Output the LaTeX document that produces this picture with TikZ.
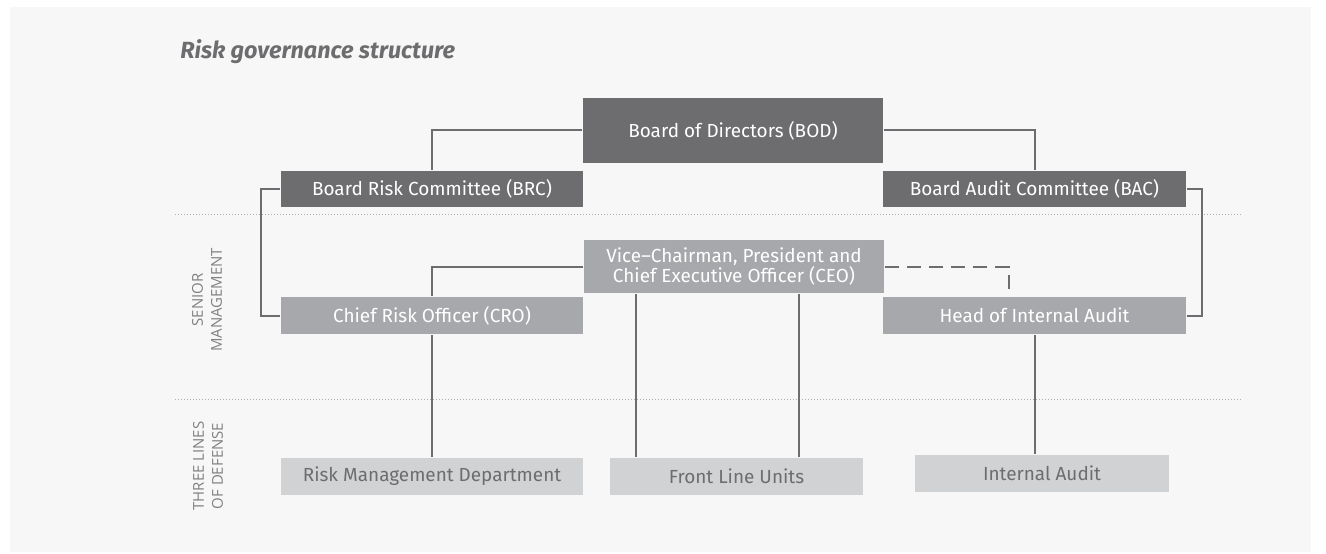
\documentclass[tikz,border=0pt]{standalone}
\usepackage{fontspec}
\setmainfont{Fira Sans}
\newfontfamily\sidefont{Open Sans}
\usetikzlibrary{positioning}

\definecolor{darkbox}{RGB}{109,109,111}
\definecolor{midbox}{RGB}{167,168,171}
\definecolor{lightbox}{RGB}{209,210,212}
\definecolor{panel}{RGB}{247,247,247}
\definecolor{sidetext}{RGB}{128,128,130}
\definecolor{dotline}{RGB}{175,175,178}

\begin{document}
\begin{tikzpicture}[x=1bp,y=-1bp,line width=2bp]
   \useasboundingbox (0,0) rectangle (1326,554);
   \fill[panel] (10,7) rectangle (1311,552);
   \node[anchor=west,text=darkbox,font=\fontsize{23.5}{27}\selectfont\bfseries\itshape] (title) at (176,52) {Risk governance structure};
   \tikzstyle{unit}=[rectangle, inner sep=0pt, minimum height=37bp, font=\fontsize{19}{21}\selectfont, align=center]
   \tikzstyle{board}=[unit, fill=darkbox, text=white]
   \tikzstyle{senior}=[unit, fill=midbox, text=white]
   \tikzstyle{defense}=[unit, fill=lightbox, text=darkbox]
   \tikzstyle{link}=[draw=darkbox, line width=2bp]
   \tikzstyle{side}=[text=sidetext, font=\sidefont\fontsize{15}{19}\selectfont, align=center, rotate=90]
   % section separators
   \foreach \y in {215,399} {
       \draw[dotline, line width=1bp, dash pattern=on 1bp off 2bp] (175,\y) -- (1241,\y);
   }
   \node[side] (seniorlabel) at (207,300) {SENIOR\\MANAGEMENT};
   \node[side] (defenselabel) at (208,466) {THREE LINES\\OF DEFENSE};
   % board level
   \node[board, minimum width=300bp, minimum height=65bp] (bod) at (733,130.5) {Board of Directors (BOD)};
   \node[board, minimum width=302bp, minimum height=36bp] (brc) at (432,189) {Board Risk Committee (BRC)};
   \node[board, minimum width=303bp, minimum height=36bp] (bac) at (1034.5,189) {Board Audit Committee (BAC)};
   % senior management
   \node[senior, minimum width=300bp, minimum height=53bp] (ceo) at (734,266.5) {Vice--Chairman, President and\\Chief Executive Officer (CEO)};
   \node[senior, minimum width=302bp] (cro) at (432,315.5) {Chief Risk Officer (CRO)};
   \node[senior, minimum width=303bp] (hia) at (1034.5,315.5) {Head of Internal Audit};
   % three lines of defense
   \node[defense, minimum width=302bp] (rmd) at (432,476.5) {Risk Management Department};
   \node[defense, minimum width=253bp] (flu) at (736.5,476.5) {Front Line Units};
   \node[defense, minimum width=254bp] (ia) at (1042,473.5) {Internal Audit};
   % connectors
   \draw[link] (bod.west) -| (brc.north);
   \draw[link] (bod.east) -| (bac.north);
   \draw[link] (brc.west) -- ++(-19,0) |- (cro.west);
   \draw[link] (bac.east) -- ++(15,0) |- (hia.east);
   \draw[link] (ceo.west) -| (cro.north);
   \draw[link, dash pattern=on 14bp off 8bp] (ceo.east) -| ([xshift=-26bp]hia.north);
   \draw[link] (cro.south) -- (rmd.north);
   \coordinate (fluleft) at ([xshift=-98bp]ceo.south);
   \coordinate (fluright) at ([xshift=65bp]ceo.south);
   \draw[link] (fluleft) -- (fluleft |- flu.north);
   \draw[link] (fluright) -- (fluright |- flu.north);
   \draw[link] (hia.south) -- (hia.south |- ia.north);
\end{tikzpicture}
\end{document}
